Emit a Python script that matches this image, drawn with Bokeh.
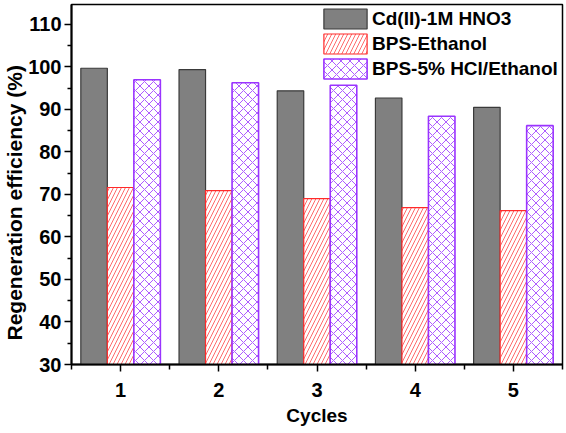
from bokeh.plotting import figure
from bokeh.models import Range1d, FixedTicker, Legend, LegendItem, ColumnDataSource, Title
from bokeh.transform import dodge
from bokeh.embed import file_html
from bokeh.resources import INLINE

cycles = [1, 2, 3, 4, 5]
series_names = ["Cd(II)-1M HNO3", "BPS-Ethanol", "BPS-5% HCl/Ethanol"]
cd_hno3 = [99.7, 99.4, 94.4, 92.7, 90.5]
bps_ethanol = [71.65, 70.9, 69.05, 66.9, 66.2]
bps_hcl_ethanol = [97.0, 96.3, 95.7, 88.4, 86.2]
y_ticks = [30, 40, 50, 60, 70, 80, 90, 100, 110]

src = ColumnDataSource(dict(x=cycles, a=cd_hno3, b=bps_ethanol, c=bps_hcl_ethanol))

FONT = "Liberation Sans"

p = figure(width=566, height=433, output_backend="svg", toolbar_location=None,
           x_range=Range1d(0.5, 5.5), y_range=Range1d(30, 114.7),
           min_border_left=69, min_border_right=4, min_border_top=4, min_border_bottom=69)

w = 0.27
r1 = p.vbar(x=dodge("x", -w, range=p.x_range), top="a", bottom=30, width=w, source=src,
            fill_color="#808080", line_color="#3a3a3a", line_width=1.2)
r2 = p.vbar(x=dodge("x", 0, range=p.x_range), top="b", bottom=30, width=w, source=src,
            fill_color="white", line_color="#ff2a2a", line_width=1.2,
            hatch_pattern="/", hatch_color="#ff6a6a", hatch_scale=8, hatch_weight=1)
r3 = p.vbar(x=dodge("x", w, range=p.x_range), top="c", bottom=30, width=w, source=src,
            fill_color="white", line_color="#9a33ff", line_width=1.6,
            hatch_pattern="x", hatch_color="#ad5cff", hatch_scale=9, hatch_weight=1)

p.grid.visible = False
p.outline_line_color = "black"
p.outline_line_width = 1.5
p.background_fill_color = "white"
p.border_fill_color = "white"

xa = p.xaxis[0]
xa.ticker = FixedTicker(ticks=cycles, minor_ticks=[0.5, 1.5, 2.5, 3.5, 4.5, 5.5])
xa.axis_label = "Cycles"
ya = p.yaxis[0]
ya.ticker = FixedTicker(ticks=y_ticks, minor_ticks=[35, 45, 55, 65, 75, 85, 95, 105, 115])

for ax in (xa, ya):
    ax.axis_line_width = 2
    ax.axis_line_color = "black"
    ax.major_tick_line_width = 1.5
    ax.minor_tick_line_width = 1.5
    ax.major_tick_in = 0
    ax.minor_tick_in = 0
    ax.major_tick_line_color = "black"
    ax.minor_tick_line_color = "black"
    ax.major_label_text_font = FONT
    ax.major_label_text_font_style = "bold"
    ax.major_label_text_font_size = "20px"
    ax.major_label_text_color = "black"
    ax.axis_label_text_font = FONT
    ax.axis_label_text_font_style = "bold"
    ax.axis_label_text_font_size = "19px"
    ax.axis_label_text_color = "black"

xa.major_tick_out = 7
xa.minor_tick_out = 5
xa.major_label_standoff = 11
xa.axis_label_standoff = 5
ya.major_tick_out = 7
ya.minor_tick_out = 4
ya.major_label_standoff = 3

ytitle = Title(text="Regeneration efficiency (%)", align="left", offset=24, standoff=0,
               text_font=FONT, text_font_style="bold", text_font_size="21px",
               text_color="black")
p.add_layout(ytitle, "left")

legend = Legend(items=[LegendItem(label=series_names[0], renderers=[r1]),
                       LegendItem(label=series_names[1], renderers=[r2]),
                       LegendItem(label=series_names[2], renderers=[r3])],
                location=(247, 283), orientation="vertical")
legend.border_line_alpha = 0
legend.background_fill_alpha = 0
legend.padding = 0
legend.margin = 0
legend.spacing = 0
legend.glyph_width = 54
legend.glyph_height = 25
legend.label_height = 25
legend.label_standoff = 0
legend.label_text_font = FONT
legend.label_text_font_style = "bold"
legend.label_text_font_size = "19px"
legend.label_text_color = "black"
p.add_layout(legend)

open("out.html", "w").write(file_html(p, INLINE))
